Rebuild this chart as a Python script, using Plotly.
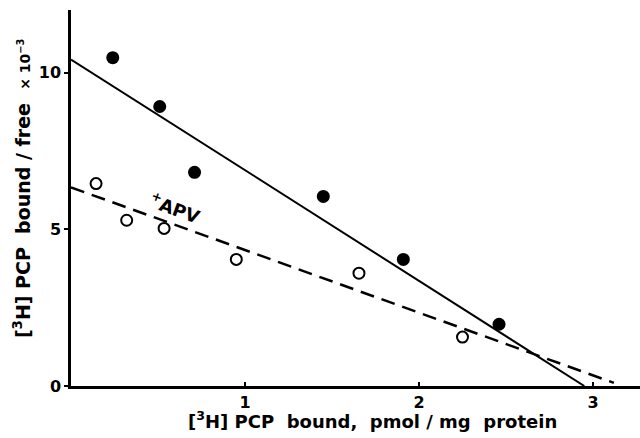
import plotly.graph_objects as go

# Data
control_x = [0.24, 0.51, 0.71, 1.45, 1.91, 2.46]
control_y = [10.48, 8.92, 6.82, 6.05, 4.04, 1.97]
apv_x = [0.144, 0.32, 0.535, 0.95, 1.655, 2.25]
apv_y = [6.46, 5.29, 5.03, 4.04, 3.60, 1.56]
control_fit_x = [0.0, 2.95]
control_fit_y = [10.42, 0.0]
apv_fit_x = [0.0, 3.12]
apv_fit_y = [6.34, 0.1]
x_ticks = [1, 2, 3]
y_ticks = [0, 5, 10]

FONT = "DejaVu Sans"

fig = go.Figure()
fig.add_trace(go.Scatter(x=control_fit_x, y=control_fit_y, mode="lines",
                         line=dict(color="black", width=2), showlegend=False))
fig.add_trace(go.Scatter(x=apv_fit_x, y=apv_fit_y, mode="lines",
                         line=dict(color="black", width=2.5, dash="14px,8px"), showlegend=False))
fig.add_trace(go.Scatter(x=control_x, y=control_y, mode="markers",
                         marker=dict(size=13, color="black"), showlegend=False))
fig.add_trace(go.Scatter(x=apv_x, y=apv_y, mode="markers",
                         marker=dict(size=11, color="white", line=dict(color="black", width=2)),
                         showlegend=False))

fig.add_annotation(x=0.60, y=5.68, xref="x", yref="y", text="<sup>+</sup>APV",
                   showarrow=False, textangle=20,
                   font=dict(family=FONT, size=18, color="black", weight="bold"))

fig.add_annotation(x=(373 - 71) / 569, y=-0.09, xref="paper", yref="paper",
                   text="[<sup>3</sup>H] PCP  bound,  pmol / mg  protein",
                   showarrow=False, yanchor="middle",
                   font=dict(family=FONT, size=18, color="black", weight="bold"))

fig.add_annotation(x=-0.086, y=(386 - 188) / 376, xref="paper", yref="paper",
                   text="[<sup>3</sup>H] PCP  bound / free  <span style='font-size:14px'>× 10<sup>−3</sup></span>",
                   showarrow=False, textangle=-90, xanchor="center", yanchor="middle",
                   font=dict(family=FONT, size=19, color="black", weight="bold"))

fig.update_xaxes(range=[0, 569 / 174], tickvals=x_ticks, ticktext=[str(v) for v in x_ticks],
                 showgrid=False, zeroline=False, showline=True, linecolor="black", linewidth=2.5,
                 ticks="inside", ticklen=4, tickwidth=2, tickcolor="black",
                 tickfont=dict(family=FONT, size=16, color="black", weight="bold"))
fig.update_yaxes(range=[0, 12], tickvals=y_ticks, ticktext=[str(v) for v in y_ticks],
                 showgrid=False, zeroline=False, showline=True, linecolor="black", linewidth=2.5,
                 ticks="outside", ticklen=4, tickwidth=2, tickcolor="black",
                 tickfont=dict(family=FONT, size=16, color="black", weight="bold"))

fig.update_layout(width=640, height=438, margin=dict(l=71, r=0, t=10, b=52),
                  plot_bgcolor="white", paper_bgcolor="white")

fig.write_html("out.html")
